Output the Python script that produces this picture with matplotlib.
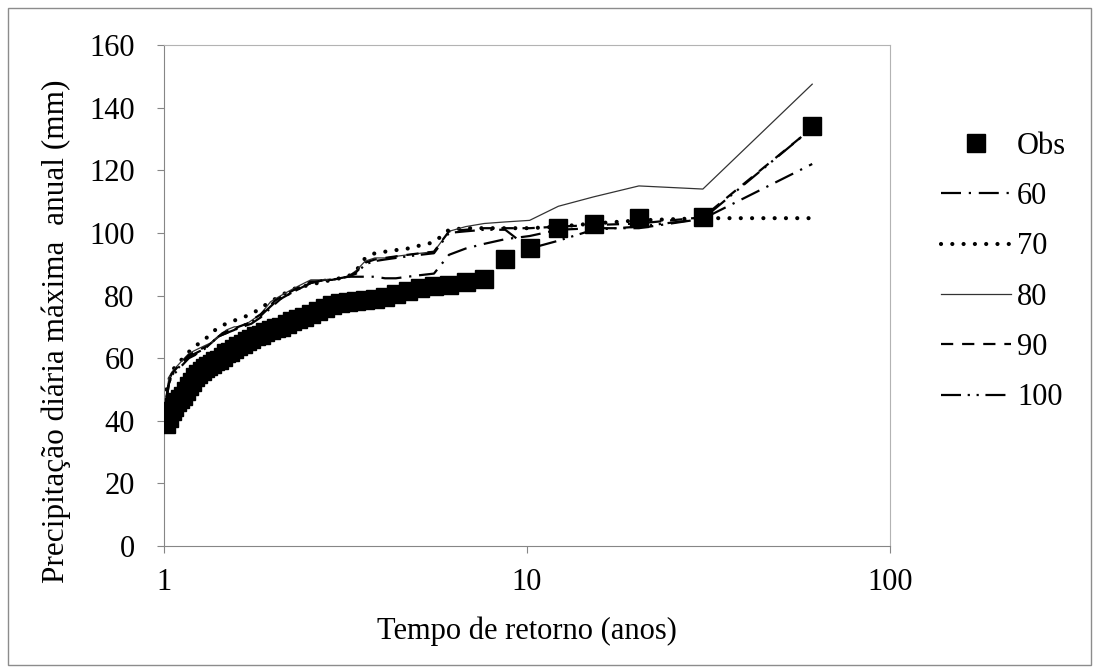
import matplotlib
matplotlib.use("Agg")
import matplotlib.pyplot as plt
from matplotlib.patches import Rectangle

plt.rcParams['font.family'] = ['Liberation Serif', 'DejaVu Serif']

# return periods (years), ascending
tempo = [1.017, 1.034, 1.052, 1.070, 1.089, 1.109, 1.130, 1.151, 1.173, 1.196,
         1.220, 1.245, 1.271, 1.298, 1.326, 1.356, 1.386, 1.419, 1.452, 1.488,
         1.525, 1.564, 1.605, 1.649, 1.694, 1.743, 1.794, 1.848, 1.906, 1.968,
         2.033, 2.103, 2.179, 2.259, 2.346, 2.440, 2.542, 2.652, 2.773, 2.905,
         3.050, 3.211, 3.389, 3.588, 3.813, 4.067, 4.357, 4.692, 5.083, 5.545,
         6.100, 6.778, 7.625, 8.714, 10.17, 12.20, 15.25, 20.33, 30.50, 61.00]

obs = [39, 41, 43, 44.5, 46, 47, 48, 49.5, 51, 52.5,
       54, 55, 56, 57, 57.5, 58, 59, 59.5, 60.5, 61.5,
       62, 63, 64, 64.5, 65.5, 66, 67, 67.5, 68.5, 69,
       69.5, 70, 71, 72, 72.5, 73, 74, 75, 76, 77,
       77.5, 78, 78.3, 78.6, 79, 79.5, 80.5, 81.5, 82.5, 83,
       83.5, 84.3, 85.3, 91.7, 95.3, 101.7, 102.8, 104.6, 105, 134]

s60 = [47, 52, 54, 55, 56, 57, 58, 59, 60, 60.5,
       61, 62, 62.5, 63, 64, 65, 66, 67, 67.5, 68,
       68.5, 69, 69.5, 70, 70.5, 71, 72, 73, 74.5, 76,
       77.5, 79, 80, 81, 82, 83, 84, 84.5, 85, 85,
       85.5, 86, 86, 86, 86, 85.5, 85.5, 86, 86.5, 87,
       93, 95, 96.5, 98, 99, 101, 101.5, 101.5, 104.5, 122]

s70 = [50, 53, 55, 57, 58, 59, 60, 61, 62, 63,
       64, 64.5, 65, 66, 67, 68, 69, 70, 70.5, 71,
       71.5, 72, 72.5, 73, 73.5, 74, 75, 76, 77, 78,
       79, 80, 81, 82, 82.5, 83, 83.5, 84, 84.5, 85,
       85.5, 86, 88, 92, 93.5, 94, 94.5, 95, 96, 97,
       101, 101.5, 101.5, 101.5, 101.5, 102, 103, 104, 104.7, 104.7]

s80 = [48, 54, 55.5, 56.5, 57.5, 58.5, 59.5, 60.5, 61.5, 62,
       62.5, 63, 63.5, 64, 64.5, 65, 66, 67, 68, 69,
       69.5, 70, 70, 70.5, 71, 72, 73, 74, 76, 78,
       79, 80, 81, 82, 83, 84, 85, 85, 85, 85,
       85.5, 86, 88, 91, 92, 92, 92.5, 93, 93.5, 94,
       100.5, 102, 103, 103.5, 104, 108.5, 111.5, 115, 114, 147.5]

s90 = [47.5, 53, 55, 56, 57, 58, 59, 60, 61, 61.5,
       62, 62.5, 63, 63.5, 64, 65, 66, 67, 68, 68.5,
       69, 69.5, 70, 70.5, 71, 72, 73, 74, 75.5, 77,
       78.5, 79.5, 80.5, 81.5, 82.5, 83.5, 84.5, 84.5, 85, 85,
       85.5, 86, 87.5, 90.5, 91.5, 92, 92.5, 93, 93.5, 94,
       100.5, 101, 101.5, 101.5, 101.5, 102, 102.5, 103, 105, 133.5]

s100 = [46.5, 52, 54.5, 55.5, 56.5, 57.5, 58.5, 59.5, 60.5, 61,
        61.5, 62, 62.5, 63, 64, 65, 66, 67, 67.5, 68,
        68.5, 69, 70, 70.5, 71, 71.5, 72.5, 73.5, 75, 76.5,
        78, 79, 80, 81, 82, 83, 84, 84.5, 85, 85,
        85.5, 86, 87, 90, 91, 91.5, 92, 92.5, 93, 93.5,
        100, 100.5, 101, 101, 95, 97.5, 101, 102, 104.5, 133.5]

fig = plt.figure(figsize=(10.99, 6.72), dpi=100)
fig.patches.append(Rectangle((8 / 1099, 7 / 672), 1083 / 1099, 657 / 672,
                             transform=fig.transFigure, fill=False,
                             edgecolor='#8c8c8c', linewidth=1.0))

ax = fig.add_axes([0.149, 0.1875, 0.661, 0.7455])

ax.plot(tempo, obs, linestyle='none', marker='s', markersize=12.5,
        color='black', label='Obs', zorder=3)
ax.plot(tempo, s60, color='black', linewidth=1.6,
        linestyle=(0, (9, 3.5, 1, 3.5)), label='60')
ax.plot(tempo, s70, color='black', linewidth=3.0, dash_capstyle='round',
        linestyle=(0, (0.01, 2.7)), label='70')
ax.plot(tempo, s80, color='#333333', linewidth=0.9, linestyle='-', label='80')
ax.plot(tempo, s90, color='black', linewidth=1.6,
        linestyle=(0, (5.5, 4)), label='90')
ax.plot(tempo, s100, color='black', linewidth=1.6,
        linestyle=(0, (9, 3, 1, 3, 1, 3)), label='100')

ax.set_xscale('log')
ax.set_xlim(1, 100)
ax.set_ylim(0, 160)
ax.set_yticks(range(0, 161, 20))
ax.set_xticks([1, 10, 100])
ax.set_xticklabels(['1', '10', '100'])
ax.minorticks_off()

for side in ['top', 'right']:
    ax.spines[side].set_color('#b3b3b3')
for side in ['left', 'bottom']:
    ax.spines[side].set_color('#868686')
ax.tick_params(direction='out', length=5, color='#868686', labelsize=22)
ax.tick_params(axis='y', pad=16)
ax.tick_params(axis='x', pad=11)

ax.set_xlabel('Tempo de retorno (anos)', fontsize=22, labelpad=14)
ax.set_ylabel('Precipitação diária máxima  anual (mm)', fontsize=22.5)
ax.yaxis.set_label_coords(-0.128, 0.428)

ax.legend(loc='upper left', bbox_to_anchor=(1.04, 0.87), frameon=False,
          fontsize=22, handlelength=2.3, handletextpad=0.2, labelspacing=0.7,
          borderpad=0.2)

fig.savefig('out.png', dpi=100)
